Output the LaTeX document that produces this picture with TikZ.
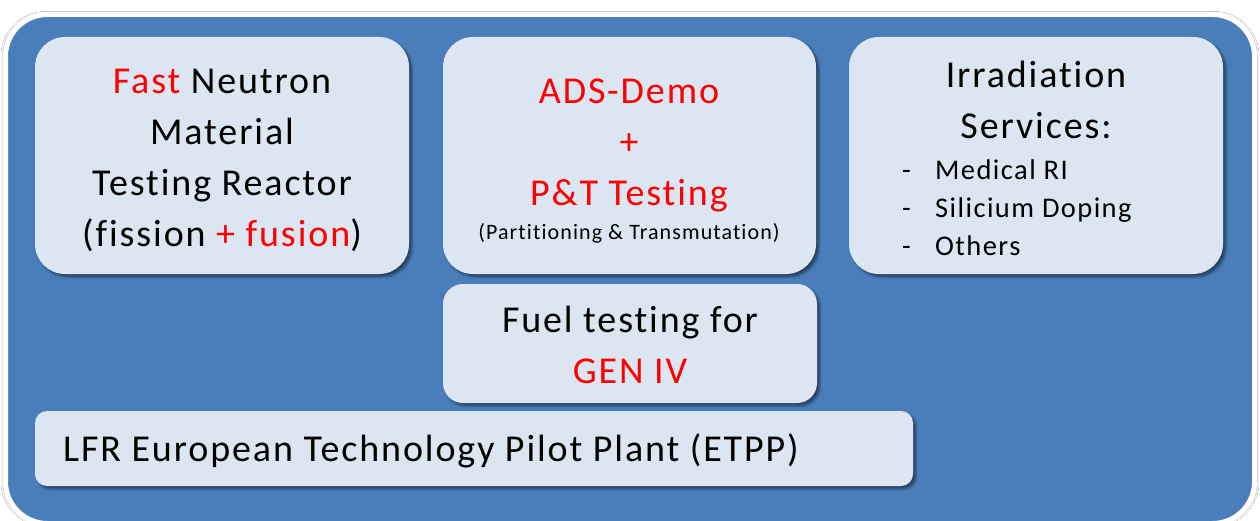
\documentclass[tikz,border=0pt]{standalone}
\usepackage{fontspec}
\setmainfont{Carlito}[LetterSpace=5, Ligatures=NoCommon]
\usetikzlibrary{shadows.blur}
\definecolor{outerblue}{RGB}{74,126,187}
\definecolor{boxfill}{RGB}{220,230,242}
\definecolor{hl}{RGB}{255,0,0}
\begin{document}
\begin{tikzpicture}[x=1pt,y=-1pt,
  panel/.style={fill=boxfill, draw=none, inner sep=0pt, rounded corners=#1,
    blur shadow={shadow xshift=3pt, shadow yshift=-3pt, shadow blur steps=6, shadow opacity=45}},
  big/.style={font=\fontsize{38}{51}\selectfont, inner sep=0pt, align=center},
  small/.style={font=\fontsize{22}{30}\selectfont, inner sep=0pt},
  item/.style={font=\fontsize{28.5}{34}\selectfont, inner sep=0pt, anchor=base west}]
\useasboundingbox (0,0) rectangle (1260,521);
\fill[white] (0,0) rectangle (1260,521);
% outer frame
\node[fill=outerblue, draw=white, line width=5pt, rounded corners=42pt, inner sep=0pt,
  minimum width=1249pt, minimum height=509pt,
  blur shadow={shadow xshift=0pt, shadow yshift=0pt, shadow scale=1.004, shadow blur steps=8, shadow opacity=30}]
  (frame) at (630,12) [anchor=north] {};
% panels
\node[panel=30pt, minimum width=374pt, minimum height=237pt] (fast) at (222,155.5) {};
\node[panel=30pt, minimum width=373pt, minimum height=237pt] (ads) at (629.5,155.5) {};
\node[panel=30pt, minimum width=374pt, minimum height=237pt] (irr) at (1036,155.5) {};
\node[panel=20pt, minimum width=374pt, minimum height=119pt] (fuel) at (630,343.5) {};
\node[panel=12pt, minimum width=878pt, minimum height=75pt] (lfr) at (474,448.5) {};
% texts
\node[big] (tfast) at (222,160.5) {\textcolor{hl}{Fast} Neutron\\Material\\Testing Reactor\\(fission \textcolor{hl}{+ fusion})};
\node[big, text=hl] (tads) at (629,145.5) {ADS-Demo\\+\\P\&T Testing};
\node[small, anchor=base] (tpt) at (629,240) {(Partitioning \& Transmutation)};
\node[big] (tirr) at (1036,100) {Irradiation\\Services:};
\node[item] (i1) at (902,180) {\makebox[33pt][l]{-}Medical RI};
\node[item] (i2) at (902,218) {\makebox[33pt][l]{-}Silicium Doping};
\node[item] (i3) at (902,255) {\makebox[33pt][l]{-}Others};
\node[big] (tfuel) at (630,344.5) {Fuel testing for\\\textcolor{hl}{GEN IV}};
\node[big, anchor=base west] (tlfr) at (63,461) {LFR European Technology Pilot Plant (ETPP)};
\end{tikzpicture}
\end{document}
